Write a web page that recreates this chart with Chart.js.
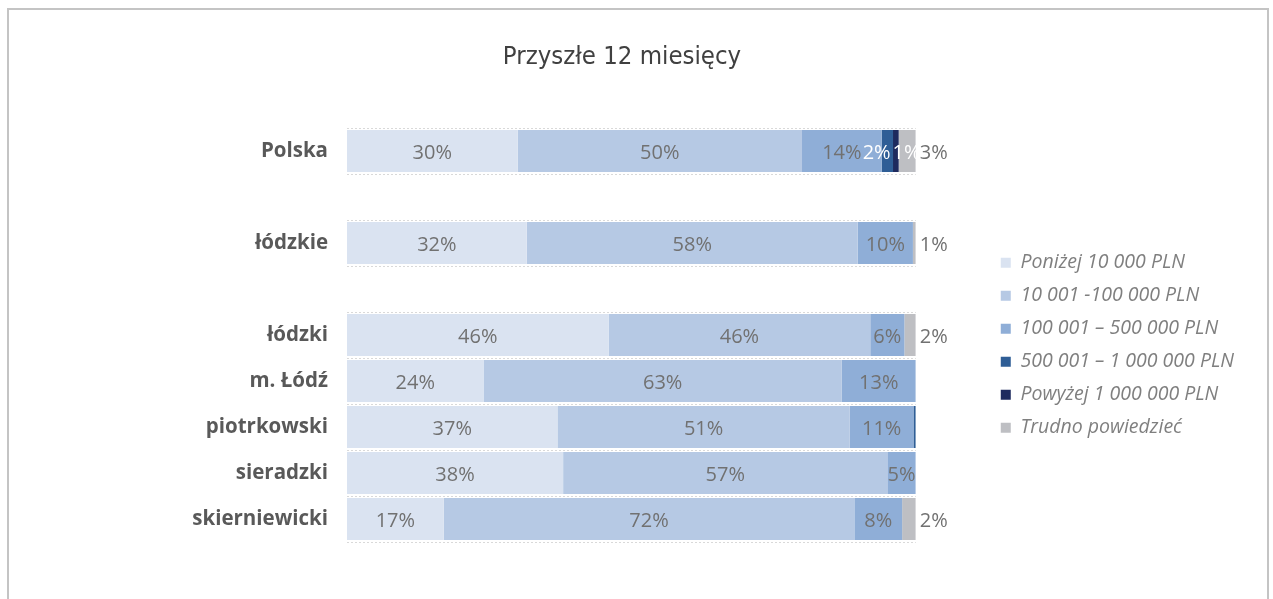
<!DOCTYPE html>
<html>
<head>
<meta charset="utf-8">
<script src="https://cdn.jsdelivr.net/npm/chart.js@4"></script>
<style>
  body { margin: 0; background: #fff; }
  #wrap { position: relative; width: 1273px; height: 599px; overflow: hidden; }
  #frame { position: absolute; left: 7px; top: 8px; width: 1262px; height: 700px; border: 2px solid #c4c4c4; box-sizing: border-box; }
  #chart { position: absolute; left: 0; top: 0; }
</style>
</head>
<body>
<div id="wrap">
  <div id="frame"></div>
  <canvas id="chart" width="1273" height="599"></canvas>
</div>
<script>
// categories (empty strings are the gaps between groups)
const categories = ["Polska", "", "łódzkie", "", "łódzki", "m. Łódź", "piotrkowski", "sieradzki", "skierniewicki"];

// series values in %
const below_10k = [30, null, 31.6, null, 46, 24, 37, 38, 17.0];
const from_10k_100k = [50, null, 58.2, null, 46, 63, 51.4, 57, 72.2];
const from_100k_500k = [14, null, 9.7, null, 6, 13, 11.2, 5, 8.4];
const from_500k_1m = [2, null, 0, null, 0, 0, 0.4, 0, 0];
const above_1m = [1, null, 0, null, 0, 0, 0, 0, 0];
const hard_to_say = [3, null, 0.5, null, 2, 0, 0, 0, 2.4];

const series_names = [
  "Poniżej 10 000 PLN",
  "10 001 -100 000 PLN",
  "100 001 – 500 000 PLN",
  "500 001 – 1 000 000 PLN",
  "Powyżej 1 000 000 PLN",
  "Trudno powiedzieć",
];
const series_colors = ["#dae3f1", "#b6c9e4", "#8faed7", "#2f5e96", "#1e2a5e", "#bebfc3"];
const label_colors = ["#717171", "#717171", "#717171", "#ffffff", "#ffffff", "#717171"];
const outside_series = 5; // labels drawn right of the bar end

const font_family = '"Open Sans", "DejaVu Sans", sans-serif';

// Drawing the value labels, pushing apart the ones that overlap
const barLabels = {
  id: "barLabels",
  beforeInit(chart) {
    // let the legend be as wide as its text needs
    const origFit = chart.legend.fit;
    chart.legend.fit = function () {
      this.maxWidth = 400;
      origFit.call(this);
    };
  },
  afterDatasetsDraw(chart) {
    const ctx = chart.ctx;
    ctx.save();
    ctx.font = "20px " + font_family;
    ctx.textBaseline = "middle";
    for (let row = 0; row < categories.length; row++) {
      let inside = [];
      chart.data.datasets.forEach((ds, d) => {
        const v = ds.data[row];
        if (v == null || Math.round(v) < 1) return;
        const bar = chart.getDatasetMeta(d).data[row];
        const text = Math.round(v) + "%";
        const w = ctx.measureText(text).width;
        if (d === outside_series) {
          ctx.fillStyle = label_colors[d];
          ctx.textAlign = "left";
          ctx.fillText(text, bar.x + 4, bar.y + 2);
        } else {
          inside.push({ text: text, w: w, cx: (bar.x + bar.base) / 2, y: bar.y, color: label_colors[d] });
        }
      });
      for (let i = 1; i < inside.length; i++) {
        const a = inside[i - 1], b = inside[i];
        const overlap = (a.cx + a.w / 2) - (b.cx - b.w / 2) + 2;
        if (overlap > 0) {
          a.cx -= overlap / 2;
          b.cx += overlap / 2;
        }
      }
      ctx.textAlign = "center";
      inside.forEach((l) => {
        ctx.fillStyle = l.color;
        ctx.fillText(l.text, l.cx, l.y + 2);
      });
    }
    ctx.restore();
  },
};

const all_values = [below_10k, from_10k_100k, from_100k_500k, from_500k_1m, above_1m, hard_to_say];
const datasets = all_values.map((vals, i) => ({
  label: series_names[i],
  data: vals,
  backgroundColor: series_colors[i],
  borderWidth: 0,
  categoryPercentage: 1,
  barPercentage: 0.91,
}));

const config = {
  type: "bar",
  data: { labels: categories, datasets: datasets },
  options: {
    indexAxis: "y",
    responsive: false,
    animation: false,
    layout: { padding: { left: 0, right: 29, top: 0, bottom: 57 } },
    scales: {
      x: { stacked: true, min: 0, max: 100, display: false },
      y: {
        stacked: true,
        grid: { display: true, drawTicks: false, color: "#d9d9d9", lineWidth: 1 },
        border: { display: false, dash: [2, 2] },
        ticks: {
          padding: 19,
          color: "#595959",
          font: { family: font_family, size: 20.5, weight: "bold" },
        },
        afterFit: (axis) => { axis.width = 347; },
      },
      gap: {
        type: "linear",
        position: "right",
        display: true,
        grid: { display: false },
        border: { display: false },
        ticks: { display: false },
        afterFit: (axis) => { axis.width = 71.5; },
      },
    },
    plugins: {
      title: {
        display: true,
        text: "Przyszłe 12 miesięcy",
        color: "#404040",
        font: { family: '"Liberation Sans Narrow", "DejaVu Sans Condensed", sans-serif', size: 25.5, weight: "normal" },
        padding: { top: 42, bottom: 55.4 },
      },
      legend: {
        position: "right",
        align: "start",
        title: { display: true, text: " ", padding: 112.5, font: { size: 12 } },
        labels: {
          boxWidth: 10,
          boxHeight: 10,
          padding: 13.5,
          color: "#7f7f7f",
          font: { family: font_family, size: 19.5, style: "italic" },
        },
      },
      tooltip: { enabled: false },
    },
  },
  plugins: [barLabels],
};

const myChart = new Chart(document.getElementById("chart").getContext("2d"), config);
</script>
</body>
</html>
